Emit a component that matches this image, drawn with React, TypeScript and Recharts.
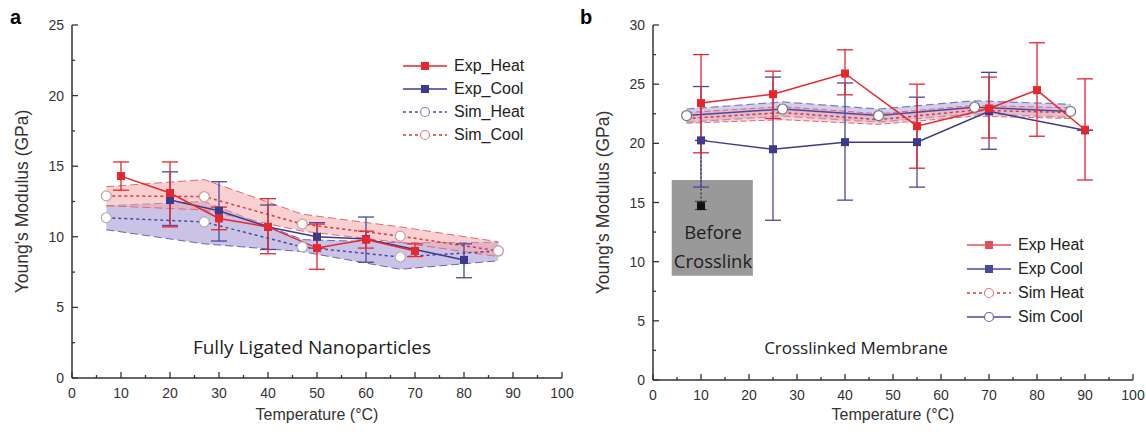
import React from 'react';
import { ComposedChart, Line, Area, XAxis, YAxis, ErrorBar, ReferenceArea } from 'recharts';

// ---------- Panel a : Fully Ligated Nanoparticles ----------
const aHeatT = [10, 20, 30, 40, 50, 60, 70];
const aHeat = [14.3, 13.1, 11.3, 10.7, 9.2, 9.8, 9.0];
const aHeatLo = [13.3, 10.7, 10.5, 8.8, 7.7, 9.2, 8.6];
const aHeatHi = [15.3, 15.3, 12.1, 12.7, 10.9, 10.4, 9.5];

const aCoolT = [20, 30, 40, 50, 60, 80];
const aCool = [12.6, 11.85, 10.7, 10.0, 9.84, 8.36];
const aCoolLo = [10.8, 9.7, 9.1, 9.2, 8.2, 7.1];
const aCoolHi = [14.6, 13.9, 12.25, 11.0, 11.4, 9.5];

const aSimT = [7, 27, 47, 67, 87];
const aSimHeat = [11.35, 11.05, 9.28, 8.57, 9.0];
const aSimHeatLo = [10.5, 9.5, 8.95, 7.7, 8.3];
const aSimHeatHi = [12.2, 12.5, 9.8, 9.6, 9.6];
const aSimCool = [12.9, 12.85, 10.9, 10.05, 9.0];
const aSimCoolLo = [12.2, 11.9, 10.4, 9.6, 8.6];
const aSimCoolHi = [13.55, 14.05, 11.6, 10.7, 9.65];

// ---------- Panel b : Crosslinked Membrane ----------
const bHeatT = [10, 25, 40, 55, 70, 80, 90];
const bHeat = [23.4, 24.15, 25.9, 21.45, 22.95, 24.5, 21.15];
const bHeatLo = [19.2, 22.1, 24.1, 17.9, 20.45, 20.6, 16.9];
const bHeatHi = [27.5, 26.1, 27.9, 25.0, 25.6, 28.5, 25.45];

const bCoolT = [10, 25, 40, 55, 70, 90];
const bCool = [20.25, 19.5, 20.1, 20.1, 22.7, 21.1];
const bCoolLo = [16.3, 13.5, 15.2, 16.3, 19.5, 21.1];
const bCoolHi = [24.8, 25.6, 25.1, 23.9, 26.0, 21.1];

const bBeforeT = [10, 10];
const bBefore = [20.25, 14.7];
const bBeforeLo = [20.25, 14.4];
const bBeforeHi = [20.25, 15.1];

const bSimT = [7, 27, 47, 67, 87];
const bSimCool = [22.35, 22.9, 22.35, 23.05, 22.7];
const bSimCoolLo = [21.8, 22.3, 21.8, 22.5, 22.2];
const bSimCoolHi = [22.9, 23.5, 22.9, 23.6, 23.3];
const bSimHeat = [22.1, 22.6, 22.0, 22.8, 22.6];
const bSimHeatLo = [21.7, 22.0, 21.6, 22.3, 22.1];
const bSimHeatHi = [22.6, 23.1, 22.5, 23.2, 23.0];

const xTicks = [0, 5, 10, 15, 20, 25, 30, 35, 40, 45, 50, 55, 60, 65, 70, 75, 80, 85, 90, 95, 100];
const aYTicks = [0, 2.5, 5, 7.5, 10, 12.5, 15, 17.5, 20, 22.5, 25];
const bYTicks = [0, 2.5, 5, 7.5, 10, 12.5, 15, 17.5, 20, 22.5, 25, 27.5, 30];

// ---------- helpers ----------
const RED = '#e8262c';
const NAVY = '#3d3a8e';
const AXIS = '#333';
const FONT = 'Liberation Sans, Arial, sans-serif';
const HUM = '"Open Sans", Lato, sans-serif';

const pts = (t: number[], v: number[], lo: number[], hi: number[]) =>
  t.map((x, i) => ({ t: x, v: v[i], err: [v[i] - lo[i], hi[i] - v[i]] }));
const line = (t: number[], v: number[]) => t.map((x, i) => ({ t: x, v: v[i] }));
const band = (t: number[], lo: number[], hi: number[]) => t.map((x, i) => ({ t: x, band: [lo[i], hi[i]] }));

const square = (color: string, only?: number) => (p: any) => {
  const { cx, cy, index } = p;
  if (cx == null || cy == null || (only != null && index !== only)) return <g key={index} />;
  return <rect key={index} x={cx - 4} y={cy - 4} width={8} height={8} fill={color} />;
};
const circle = (stroke: string) => (p: any) => {
  const { cx, cy, index } = p;
  if (cx == null || cy == null) return <g key={index} />;
  return <circle key={index} cx={cx} cy={cy} r={5} fill="#fff" stroke={stroke} strokeWidth={1.2} />;
};

const xTickBottom = (p: any) => {
  const { x, y, payload } = p;
  const v = payload.value;
  const major = v % 10 === 0;
  return (
    <g key={v}>
      <line x1={x} x2={x} y1={y} y2={y - (major ? 6 : 3)} stroke={AXIS} strokeWidth={1.3} />
      {major && (
        <text x={x} y={y + 20} textAnchor="middle" fontSize={14} fill={AXIS} fontFamily={FONT}>{v}</text>
      )}
    </g>
  );
};
const xTickTop = (p: any) => {
  const { x, y, payload } = p;
  const major = payload.value % 10 === 0;
  return <line key={payload.value} x1={x} x2={x} y1={y} y2={y + (major ? 6 : 3)} stroke={AXIS} strokeWidth={1.3} />;
};
const yTickLeft = (p: any) => {
  const { x, y, payload } = p;
  const v = payload.value;
  const major = v % 5 === 0;
  return (
    <g key={v}>
      <line x1={x} x2={x + (major ? 6 : 3)} y1={y} y2={y} stroke={AXIS} strokeWidth={1.3} />
      {major && (
        <text x={x - 8} y={y + 5} textAnchor="end" fontSize={14} fill={AXIS} fontFamily={FONT}>{v}</text>
      )}
    </g>
  );
};
const yTickRight = (p: any) => {
  const { x, y, payload } = p;
  const major = payload.value % 5 === 0;
  return <line key={payload.value} x1={x} x2={x - (major ? 6 : 3)} y1={y} y2={y} stroke={AXIS} strokeWidth={1.3} />;
};

const axisLine = { stroke: AXIS, strokeWidth: 1.5 };

function Frame(yMax: number, yTicks: number[], xh: number) {
  return [
    <XAxis key="xb" dataKey="t" type="number" domain={[0, 100]} ticks={xTicks} interval={0}
      tickSize={0} tickMargin={0} tickLine={false} axisLine={axisLine} tick={xTickBottom} height={xh}
      label={{ value: 'Temperature (°C)', position: 'insideBottom', offset: 2, fontSize: 16, fill: AXIS, fontFamily: FONT }} />,
    <XAxis key="xt" xAxisId="top" orientation="top" dataKey="t" type="number" domain={[0, 100]} ticks={xTicks}
      interval={0} tickSize={0} tickMargin={0} tickLine={false} axisLine={axisLine} tick={xTickTop} height={0} />,
    <YAxis key="yl" type="number" domain={[0, yMax]} ticks={yTicks} interval={0} tickSize={0} tickMargin={0}
      tickLine={false} axisLine={axisLine} tick={yTickLeft} width={60}
      label={{ value: "Young's Modulus (GPa)", angle: -90, position: 'insideLeft', offset: 10, fontSize: 17.5, fill: AXIS, fontFamily: FONT, style: { textAnchor: 'middle' } }} />,
    <YAxis key="yr" yAxisId="r" orientation="right" type="number" domain={[0, yMax]} ticks={yTicks} interval={0}
      tickSize={0} tickMargin={0} tickLine={false} axisLine={axisLine} tick={yTickRight} width={0} />,
  ];
}

const LegendRow = ({ color, dash, marker, label, mstroke, h }: any) => (
  <div style={{ display: 'flex', alignItems: 'center', height: h || 23 }}>
    <svg width={46} height={14}>
      <line x1={1} x2={45} y1={7} y2={7} stroke={color} strokeWidth={1.5} strokeDasharray={dash} />
      {marker === 'sq' ? (
        <rect x={19} y={3} width={8} height={8} fill={color} />
      ) : (
        <circle cx={23} cy={7} r={4.5} fill="#fff" stroke={mstroke || color} strokeWidth={1.2} />
      )}
    </svg>
    <span style={{ marginLeft: 6, fontSize: 16, fontFamily: FONT, color: '#222' }}>{label}</span>
  </div>
);

export default function App() {
  const pinkFill = '#f4a9ab';
  const purpleFill = '#a99bd3';
  return (
    <div style={{ position: 'absolute', left: 0, top: 0, width: 1146, height: 434, background: '#fff' }}>
      {/* Panel a */}
      <div style={{ position: 'absolute', left: 0, top: 0 }}>
        <ComposedChart width={580} height={434} margin={{ top: 25, right: 18, bottom: 12, left: 12 }}>
          {Frame(25, aYTicks, 44)}
          <Area data={band(aSimT, aSimHeatLo, aSimHeatHi)} dataKey="band" type="linear" fill={purpleFill}
            fillOpacity={0.6} stroke="#6a66b0" strokeDasharray="8 4" strokeWidth={1} isAnimationActive={false} />
          <Area data={band(aSimT, aSimCoolLo, aSimCoolHi)} dataKey="band" type="linear" fill={pinkFill}
            fillOpacity={0.55} stroke="#e26870" strokeDasharray="8 4" strokeWidth={1} isAnimationActive={false} />
          <Line data={line(aSimT, aSimHeat)} dataKey="v" type="linear" stroke="#4b48a0" strokeWidth={1.5}
            strokeDasharray="3 3" dot={circle('#b0b0b8')} isAnimationActive={false} />
          <Line data={line(aSimT, aSimCool)} dataKey="v" type="linear" stroke="#e0343b" strokeWidth={1.5}
            strokeDasharray="3 3" dot={circle('#c8a0a0')} isAnimationActive={false} />
          <Line data={pts(aCoolT, aCool, aCoolLo, aCoolHi)} dataKey="v" type="linear" stroke={NAVY} strokeWidth={1.5}
            dot={square(NAVY)} isAnimationActive={false}>
            <ErrorBar dataKey="err" direction="y" width={8} stroke="#4a47a0" strokeWidth={1.3} />
          </Line>
          <Line data={pts(aHeatT, aHeat, aHeatLo, aHeatHi)} dataKey="v" type="linear" stroke={RED} strokeWidth={1.5}
            dot={square(RED)} isAnimationActive={false}>
            <ErrorBar dataKey="err" direction="y" width={8} stroke={RED} strokeWidth={1.3} />
          </Line>
        </ComposedChart>
      </div>

      {/* Panel b */}
      <div style={{ position: 'absolute', left: 580, top: 0 }}>
        <ComposedChart width={566} height={434} margin={{ top: 25, right: 13, bottom: 12, left: 13 }}>
          {Frame(30, bYTicks, 42)}
          <ReferenceArea x1={3.9} x2={20.8} y1={8.8} y2={16.9} fill="#999999" fillOpacity={1} stroke="none" />
          <Area data={band(bSimT, bSimCoolLo, bSimCoolHi)} dataKey="band" type="linear" fill="#b9b6e4"
            fillOpacity={0.65} stroke="#7d7bc4" strokeDasharray="8 4" strokeWidth={1.2} isAnimationActive={false} />
          <Area data={band(bSimT, bSimHeatLo, bSimHeatHi)} dataKey="band" type="linear" fill={pinkFill}
            fillOpacity={0.5} stroke="#e26870" strokeDasharray="6 3" strokeWidth={1} isAnimationActive={false} />
          <Line data={line(bSimT, bSimHeat)} dataKey="v" type="linear" stroke="#e0343b" strokeWidth={1.5}
            strokeDasharray="3 3" dot={false} isAnimationActive={false} />
          <Line data={line(bSimT, bSimCool)} dataKey="v" type="linear" stroke="#4b48a0" strokeWidth={1.5}
            dot={circle('#777')} isAnimationActive={false} />
          <Line data={pts(bBeforeT, bBefore, bBeforeLo, bBeforeHi)} dataKey="v" type="linear" stroke="#333"
            strokeWidth={1.3} strokeDasharray="2 2" dot={square('#111', 1)} isAnimationActive={false}>
            <ErrorBar dataKey="err" direction="y" width={6} stroke="#333" strokeWidth={1} />
          </Line>
          <Line data={pts(bCoolT, bCool, bCoolLo, bCoolHi)} dataKey="v" type="linear" stroke={NAVY} strokeWidth={1.5}
            dot={square(NAVY)} isAnimationActive={false}>
            <ErrorBar dataKey="err" direction="y" width={8} stroke="#4a47a0" strokeWidth={1.3} />
          </Line>
          <Line data={pts(bHeatT, bHeat, bHeatLo, bHeatHi)} dataKey="v" type="linear" stroke={RED} strokeWidth={1.5}
            dot={square(RED)} isAnimationActive={false}>
            <ErrorBar dataKey="err" direction="y" width={8} stroke={RED} strokeWidth={1.3} />
          </Line>
        </ComposedChart>
      </div>

      {/* panel letters */}
      <div style={{ position: 'absolute', left: 10, top: 6, fontSize: 20, fontWeight: 'bold', fontFamily: FONT }}>a</div>
      <div style={{ position: 'absolute', left: 580, top: 6, fontSize: 20, fontWeight: 'bold', fontFamily: FONT }}>b</div>

      {/* annotations */}
      <div style={{ position: 'absolute', left: 312, top: 347, transform: 'translate(-50%,-50%)', fontSize: 19, fontFamily: HUM, color: '#222', whiteSpace: 'nowrap' }}>Fully Ligated Nanoparticles</div>
      <div style={{ position: 'absolute', left: 856, top: 347, transform: 'translate(-50%,-50%)', fontSize: 17, fontFamily: HUM, color: '#222', whiteSpace: 'nowrap' }}>Crosslinked Membrane</div>
      <div style={{ position: 'absolute', left: 713, top: 246, transform: 'translate(-50%,-50%)', fontSize: 18.5, lineHeight: '29px', fontFamily: HUM, color: '#1e1e1e', textAlign: 'center', whiteSpace: 'nowrap' }}>Before<br />Crosslink</div>

      {/* legends */}
      <div style={{ position: 'absolute', left: 402, top: 54 }}>
        <LegendRow color={RED} marker="sq" label="Exp_Heat" />
        <LegendRow color={NAVY} marker="sq" label="Exp_Cool" />
        <LegendRow color="#4b48a0" dash="3 3" marker="c" mstroke="#8a88b8" label="Sim_Heat" />
        <LegendRow color="#e0343b" dash="3 3" marker="c" mstroke="#e08080" label="Sim_Cool" />
      </div>
      <div style={{ position: 'absolute', left: 966, top: 233 }}>
        <LegendRow h={24} color="#e25058" marker="sq" label="Exp Heat" />
        <LegendRow h={24} color="#4b48a0" marker="sq" label="Exp Cool" />
        <LegendRow h={24} color="#e0343b" dash="3 3" marker="c" mstroke="#e08080" label="Sim Heat" />
        <LegendRow h={24} color="#4b48a0" marker="c" mstroke="#6a66b0" label="Sim Cool" />
      </div>
    </div>
  );
}
